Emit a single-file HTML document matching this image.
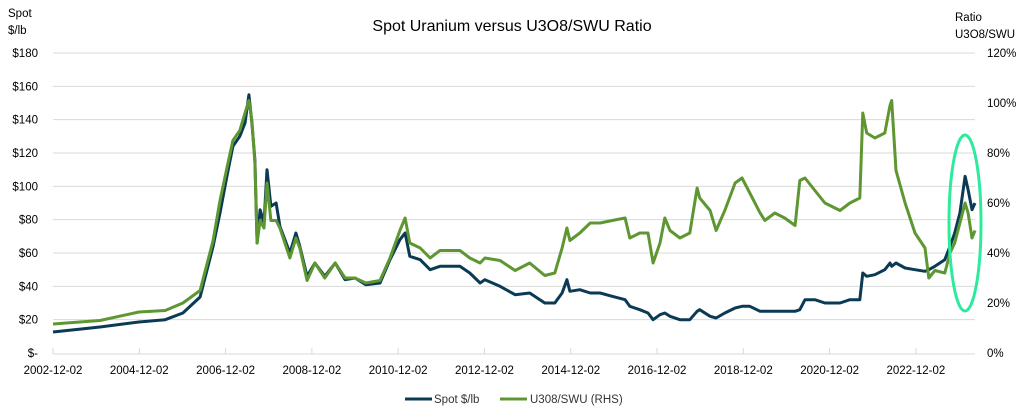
<!DOCTYPE html>
<html><head><meta charset="utf-8"><style>
body{margin:0;background:#fff;}
svg{display:block;font-family:"Liberation Sans",Calibri,sans-serif;}
</style></head><body>
<svg id="chart" width="1025" height="412" viewBox="0 0 1025 412">
<text x="512" y="31" text-anchor="middle" font-size="16" fill="#000">Spot Uranium versus U3O8/SWU Ratio</text>
<text x="8" y="17" font-size="11.5" fill="#000">Spot</text>
<text x="8" y="34" font-size="11.5" fill="#000">$/lb</text>
<text x="955" y="21" font-size="11.5" fill="#000">Ratio</text>
<text x="955" y="38" font-size="11.5" fill="#000">U3O8/SWU</text>
<g id="grid"></g><g id="axes"></g><g id="series"></g>
<ellipse cx="965" cy="223" rx="16" ry="88" fill="none" stroke="#2EEB9C" stroke-width="3"/>
<g>
<line x1="405" y1="399" x2="432" y2="399" stroke="#0B3A55" stroke-width="3"/>
<text x="434" y="403" font-size="11.5" fill="#333">Spot $/lb</text>
<line x1="500" y1="399" x2="527" y2="399" stroke="#5E9732" stroke-width="3"/>
<text x="530" y="403" font-size="11.5" fill="#333">U308/SWU (RHS)</text>
</g>
</svg>
<script>
const years=[2002.92,2004.01,2004.91,2005.52,2005.93,2006.33,2006.63,2006.79,2006.95,2007.09,2007.25,2007.37,2007.46,2007.53,2007.60,2007.65,2007.72,2007.81,2007.88,2007.97,2008.09,2008.18,2008.41,2008.55,2008.64,2008.81,2008.99,2009.22,2009.46,2009.69,2009.92,2010.17,2010.50,2010.73,2010.96,2011.08,2011.19,2011.43,2011.66,2011.89,2012.35,2012.58,2012.82,2012.93,2013.28,2013.63,2013.97,2014.32,2014.55,2014.72,2014.83,2014.90,2015.13,2015.37,2015.60,2015.88,2016.18,2016.29,2016.52,2016.71,2016.83,2016.99,2017.10,2017.22,2017.45,2017.68,2017.85,2017.91,2018.15,2018.29,2018.49,2018.73,2018.89,2019.07,2019.31,2019.42,2019.65,2019.88,2020.12,2020.23,2020.35,2020.58,2020.81,2021.16,2021.39,2021.62,2021.69,2021.78,2021.97,2022.20,2022.32,2022.36,2022.46,2022.67,2022.90,2023.13,2023.22,2023.36,2023.59,2023.71,2023.82,2023.94,2024.06,2024.13,2024.22,2024.29];
const spot=[12.6,15.6,18.6,20,24,33.6,64,84,106,124,130,138,155,138,116,66,86,78,110,88,90,76,60,72,64,46,54,46,54,44,45,41,42,56,68,72,58,56,50,52,52,48,42,44,40,35,36,30,30,36,44,37,38,36,36,34,32,28,26,24,20,23,24,22,20,20,25,26,22,21,24,27,28,28,25,25,25,25,25,26,32,32,30,30,32,32,48,46,47,50,54,52,54,51,50,49,50,52,56,64,72,84,106,98,86,90];
const ratio=[11.6,13,16.4,17,20,25,45,61,74,85,89,96,101,93,76,44,53,50,68,53,53,50,38,46,42,29,36,30,36,30,30,28,29,38,49,54,44,42,38,41,41,38,36,38,37,33,36,31,32,42,50,45,48,52,52,53,54,46,48,48,36,44,54,49,46,48,66,62,57,49,57,68,70,64,56,53,56,54,51,69,70,65,60,57,60,62,96,88,86,88,99,101,73,60,48,42,30,33,32,40,44,52,60,56,46,49];
const leftTicks=["$-","$20","$40","$60","$80","$100","$120","$140","$160","$180"];
const rightTicks=["0%","20%","40%","60%","80%","100%","120%"];
const xTickLabels=["2002-12-02","2004-12-02","2006-12-02","2008-12-02","2010-12-02","2012-12-02","2014-12-02","2016-12-02","2018-12-02","2020-12-02","2022-12-02"];
const xTickYears=[2002.92,2004.92,2006.92,2008.92,2010.92,2012.92,2014.92,2016.92,2018.92,2020.92,2022.92];

const X0=53,X1=975,Y0=353,Y1=53;
const xs=t=>X0+(t-2002.92)*(X1-X0)/(2024.29-2002.92);
const yL=v=>Y0-v*(Y0-Y1)/180;
const yR=v=>Y0-v*(Y0-Y1)/120;
const NS="http://www.w3.org/2000/svg";
function mk(tag,attrs,parent){const e=document.createElementNS(NS,tag);for(const k in attrs)e.setAttribute(k,attrs[k]);parent.appendChild(e);return e;}
const grid=document.getElementById('grid'),axes=document.getElementById('axes'),series=document.getElementById('series');
leftTicks.forEach((l,i)=>{
  const y=yL(i*20);
  if(i>0){const g=mk('line',{x1:X0,x2:X1,y1:y,y2:y,stroke:'#d9d9d9','stroke-width':1},grid);
  
  }
  const t=mk('text',{x:38,y:y+4,'text-anchor':'end','font-size':11.5,fill:'#000'},axes);t.textContent=l;
  
  
});
rightTicks.forEach((l,i)=>{
  const y=yR(i*20);
  const t=mk('text',{x:987,y:y+4,'font-size':11.5,fill:'#000'},axes);t.textContent=l;
  
  
});
const ax=mk('line',{x1:X0,x2:X1,y1:354,y2:354,stroke:'#d9d9d9','stroke-width':1},axes);


xTickLabels.forEach((l,i)=>{
  const x=xs(xTickYears[i]);
  const tk=mk('line',{x1:x,x2:x,y1:348,y2:354,stroke:'#d9d9d9','stroke-width':1},axes);
  
  
  const t=mk('text',{x:x,y:374,'text-anchor':'middle','font-size':11.5,fill:'#000'},axes);t.textContent=l;
  
  
});
const pSpot=mk('polyline',{points:years.map((t,i)=>xs(t).toFixed(1)+','+yL(spot[i]).toFixed(1)).join(' '),fill:'none',stroke:'#0B3A55','stroke-width':3,'stroke-linejoin':'round'},series);


const pRatio=mk('polyline',{points:years.map((t,i)=>xs(t).toFixed(1)+','+yR(ratio[i]).toFixed(1)).join(' '),fill:'none',stroke:'#5E9732','stroke-width':3,'stroke-linejoin':'round'},series);


</script>
</body></html>
